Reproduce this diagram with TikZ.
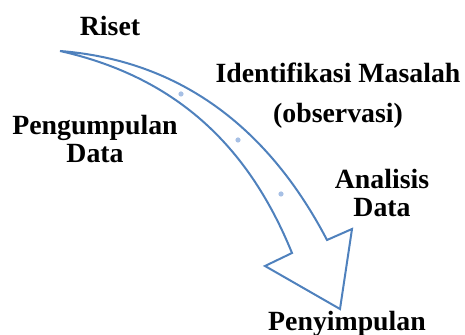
\documentclass[tikz,border=0pt]{standalone}
\usepackage{fontspec}
\setmainfont{Liberation Serif}
\begin{document}
\begin{tikzpicture}[x=0.5pt, y=-0.5pt]

      \tikzset{step label/.style={inner sep=0pt, anchor=base, align=center, font=\fontsize{13.9}{14.4}\selectfont\bfseries}}
      \tikzset{arrow line/.style={draw=arrowblue, line width=1pt, line join=miter}}
      \tikzset{spot/.style={circle, inner sep=0pt, minimum size=2.6pt, fill=spotblue}}
      \definecolor{arrowblue}{RGB}{79,129,189}
      \definecolor{spotblue}{RGB}{167,192,229}
      \useasboundingbox (0,0) rectangle (465,335);
%% Arrow
      	\coordinate (tail) at (60,51);
      	\coordinate (outerend) at (327,240);
      	\coordinate (innerend) at (292,253);
      	\coordinate (rbarb) at (352,229);
      	\coordinate (lbarb) at (265,266);
      	\coordinate (tip) at (340,309);
		\path [arrow line] (tail) .. controls (200,62) and (280,150) .. (outerend)
			-- (rbarb) -- (tip) -- (lbarb) -- (innerend)
			.. controls (250,150) and (180,78) .. (tail) -- cycle;
%% Dots
      	\node[spot] (d1) at (181,94) {};
      	\node[spot] (d2) at (238,140) {};
      	\node[spot] (d3) at (281,194) {};
%% Labels (base = last line)
      	\node[step label] (riset) at (110,36) {Riset};
      	\node[step label] (identifikasi) at (338,83) {Identifikasi Masalah};
      	\node[step label] (observasi) at (338,123) {(observasi)};
      	\node[step label] (pengumpulan) at (95,163) {Pengumpulan\\Data};
      	\node[step label] (analisis) at (382,217) {Analisis\\Data};
      	\node[step label] (penyimpulan) at (347,331) {Penyimpulan};

	\end{tikzpicture}
\end{document}
